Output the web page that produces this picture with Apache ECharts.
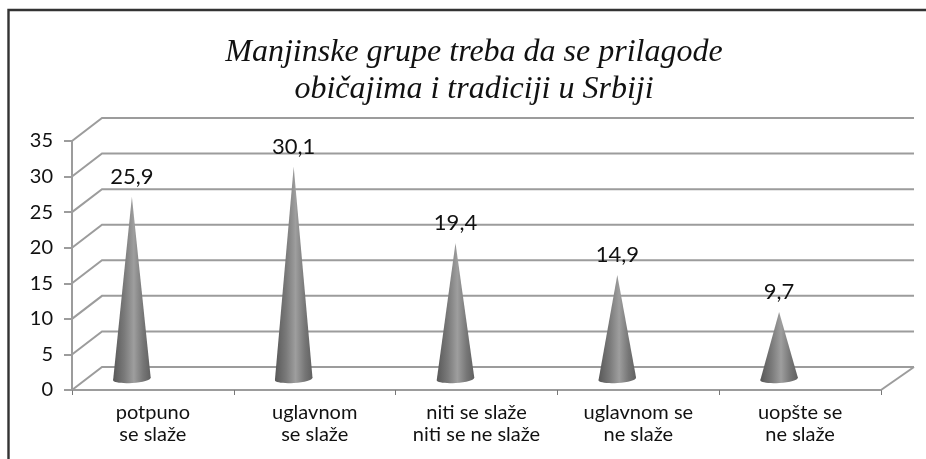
<!DOCTYPE html>
<html><head><meta charset="utf-8">
<style>html,body{margin:0;padding:0;background:#fff}#c{width:926px;height:459px}</style>
<script src="https://cdn.jsdelivr.net/npm/echarts@6/dist/echarts.min.js"></script>
</head><body><div id="c"></div>
<script>
const titleLines = ['Manjinske grupe treba da se prilagode', 'običajima i tradiciji u Srbiji'];
const categories = ['potpuno\nse slaže', 'uglavnom\nse slaže', 'niti se slaže\nniti se ne slaže', 'uglavnom se\nne slaže', 'uopšte se\nne slaže'];
const values = [25.9, 30.1, 19.4, 14.9, 9.7];
const yTicks = [0, 5, 10, 15, 20, 25, 30, 35];

const DX = 30, DY = 23, DXR = 33;
const GRID = '#9c9c9c';
const FONT = 'Lato, "Open Sans", sans-serif';
const chart = echarts.init(document.getElementById('c'), null, {renderer: 'canvas'});

chart.setOption({
  animation: false,
  backgroundColor: '#fff',
  title: {
    text: titleLines.join('\n'), left: 469, top: 29, textAlign: 'center',
    textStyle: {fontFamily: '"Liberation Serif", serif', fontStyle: 'italic', fontWeight: 'normal', fontSize: 32, lineHeight: 37, color: '#111'}
  },
  grid: {left: 72, right: 45, top: 141, bottom: 69},
  xAxis: {
    type: 'category', data: categories, boundaryGap: true,
    axisLine: {lineStyle: {color: GRID, width: 2}},
    axisTick: {show: true, length: 5, lineStyle: {color: '#777', width: 1}},
    axisLabel: {interval: 0, fontFamily: FONT, fontSize: 20, lineHeight: 22, color: '#111', margin: 12}
  },
  yAxis: {
    type: 'value', min: 0, max: 35, interval: 5,
    axisLine: {show: true, lineStyle: {color: GRID, width: 2}},
    axisTick: {show: true, length: 8, lineStyle: {color: GRID, width: 2}},
    splitLine: {show: false},
    axisLabel: {fontFamily: FONT, fontSize: 20, color: '#111', margin: 19}
  },
  series: [
    {
      type: 'custom', coordinateSystem: 'cartesian2d', z: 1, silent: true,
      data: yTicks.map(v => [0, v]),
      renderItem(params, api) {
        const y = api.coord([0, api.value(1)])[1];
        const cs = params.coordSys;
        const x0 = cs.x, x1 = cs.x + cs.width;
        const line = pts => ({type: 'polyline', shape: {points: pts}, style: {stroke: GRID, lineWidth: 2, fill: null}});
        const kids = [line([[x0, y], [x0 + DX, y - DY], [x1 + DXR, y - DY]])];
        if (api.value(1) === 0) kids.push(line([[x1, y], [x1 + DXR, y - DY]]));
        return {type: 'group', children: kids};
      }
    },
    {
      type: 'custom', coordinateSystem: 'cartesian2d', z: 3, silent: true,
      data: values.map((v, i) => [i, v]),
      renderItem(params, api) {
        const i = api.value(0), v = api.value(1);
        const tip = api.coord([i, v]), base = api.coord([i, 0]);
        const cx = base[0] - 21, by = base[1] - 11, ty = tip[1] - 9;
        const rx = 18.8, ry = 4, tilt = 0.07;
        const fill = new echarts.graphic.LinearGradient(0, 0, 1, 0, [
          {offset: 0, color: '#585858'}, {offset: 0.3, color: '#7a7a7a'},
          {offset: 0.55, color: '#9e9e9e'}, {offset: 0.8, color: '#767676'}, {offset: 1, color: '#606060'}
        ]);
        const dy = rx * Math.sin(tilt);
        return {type: 'group', children: [
          {type: 'ellipse', shape: {cx: 0, cy: 0, rx, ry}, x: cx, y: by, rotation: tilt, style: {fill}},
          {type: 'polygon', shape: {points: [[cx - rx, by + dy], [cx, ty], [cx + rx, by - dy]]}, style: {fill}},
          {type: 'text', x: cx, y: ty - 20, style: {text: String(v).replace('.', ','), fontFamily: FONT, fontSize: 22, fill: '#111', align: 'center', verticalAlign: 'middle'}}
        ]};
      }
    }
  ],
  graphic: [
    {type: 'polyline', silent: true, z: 10, shape: {points: [[8.5, 459], [8.5, 10], [926, 10]]}, style: {stroke: '#333', lineWidth: 2.4, fill: null}}
  ]
});
</script></body></html>
